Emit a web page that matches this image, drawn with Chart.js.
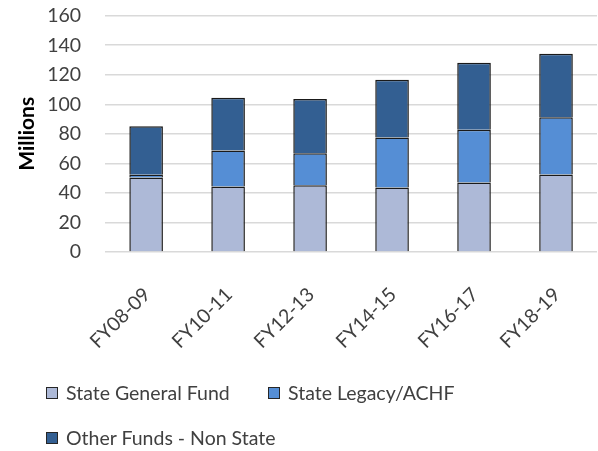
<!DOCTYPE html>
<html>
<head>
<meta charset="utf-8">
<script src="https://cdn.jsdelivr.net/npm/chart.js@4.4.0/dist/chart.umd.min.js"></script>
<style>
  body { margin: 0; background: #fff; }
  #wrap { position: relative; width: 598px; height: 451px; }
  #legend { position: absolute; left: 0; top: 0; width: 598px; height: 451px; pointer-events: none; }
  .item { position: absolute; font: 19.5px Lato, "Open Sans", sans-serif; color: #404040; white-space: nowrap; }
  .box { display: inline-block; width: 10px; height: 10px; border: 1px solid #262626; vertical-align: middle; margin-right: 8px; position: relative; top: -2px; }
</style>
</head>
<body>
<div id="wrap">
  <canvas id="chart" width="598" height="451"></canvas>
  <div id="legend"></div>
</div>
<script>
let years = ['FY08-09', 'FY10-11', 'FY12-13', 'FY14-15', 'FY16-17', 'FY18-19'];
let generalFund = [50.5, 44.3, 45.2, 43.6, 47.0, 52.4];
let legacyFund = [1.7, 24.4, 21.7, 33.9, 35.7, 38.9];
let otherFunds = [33.0, 35.7, 36.6, 39.1, 45.4, 42.9];
let seriesNames = ['State General Fund', 'State Legacy/ACHF', 'Other Funds - Non State'];
let seriesColors = ['#adb9d7', '#558ed5', '#335f92'];

let font = 'Lato, "Open Sans", sans-serif';
let textColor = '#404040';

new Chart(document.getElementById('chart'), {
    type: 'bar',
    data: {
        labels: years,
        datasets: [
            { label: seriesNames[0], data: generalFund, backgroundColor: seriesColors[0] },
            { label: seriesNames[1], data: legacyFund, backgroundColor: seriesColors[1] },
            { label: seriesNames[2], data: otherFunds, backgroundColor: seriesColors[2] }
        ].map(d => Object.assign(d, { borderColor: '#1a1a1a', borderWidth: 1.5, categoryPercentage: 1, barPercentage: 0.41 }))
    },
    options: {
        responsive: false,
        animation: false,
        layout: { padding: { left: 15, top: 0, right: 1, bottom: 75 } },
        plugins: {
            legend: { display: false },
            tooltip: { enabled: false }
        },
        scales: {
            x: {
                stacked: true,
                grid: { display: false },
                border: { display: false },
                ticks: { minRotation: 45, maxRotation: 45, autoSkip: false, color: textColor, font: { family: font, size: 19.5 }, padding: 23, labelOffset: 1 }
            },
            y: {
                stacked: true,
                min: 0,
                max: 160,
                grid: { color: '#d9d9d9', lineWidth: 1.5, tickLength: 20, tickColor: 'rgba(0,0,0,0)' },
                border: { display: false },
                ticks: { stepSize: 20, autoSkip: false, color: textColor, font: { family: font, size: 19.5 }, padding: 4 },
                title: { display: true, text: 'Millions', color: '#000', font: { family: font, size: 21, weight: 'bold' }, padding: { top: 0, bottom: 3 } }
            }
        }
    }
});

// legend laid out like the original (two columns, two rows)
let legendPos = [[46, 381], [268, 381], [46, 426]];
let legend = document.getElementById('legend');
seriesNames.forEach((name, i) => {
    let el = document.createElement('div');
    el.className = 'item';
    el.style.left = legendPos[i][0] + 'px';
    el.style.top = legendPos[i][1] + 'px';
    el.innerHTML = '<span class="box" style="background:' + seriesColors[i] + '"></span>' + name;
    legend.appendChild(el);
});
</script>
</body>
</html>
